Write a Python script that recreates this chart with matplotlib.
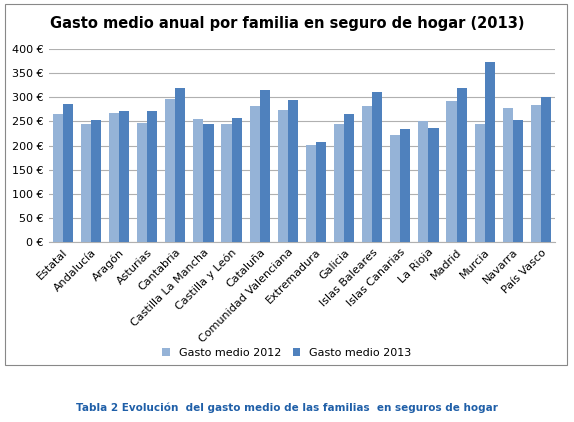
import numpy as np
import matplotlib.pyplot as plt
import matplotlib.patches as mpatches

regions = ["Estatal", "Andalucía", "Aragón", "Asturias", "Cantabria",
           "Castilla La Mancha", "Castilla y León", "Cataluña",
           "Comunidad Valenciana", "Extremadura", "Galicia", "Islas Baleares",
           "Islas Canarias", "La Rioja", "Madrid", "Murcia", "Navarra", "País Vasco"]
gasto_2012 = [265, 245, 267, 246, 297, 255, 244, 281, 273, 202, 245, 282, 222, 250, 293, 245, 277, 284]
gasto_2013 = [286, 253, 272, 272, 320, 244, 258, 316, 295, 207, 266, 311, 234, 236, 319, 374, 252, 300]
yticks = [0, 50, 100, 150, 200, 250, 300, 350, 400]

fig = plt.figure(figsize=(5.74, 4.22), dpi=100)
fig.patches.append(mpatches.Rectangle((0.009, 0.135), 0.978, 0.855, transform=fig.transFigure,
                                      fill=False, edgecolor="#888888", linewidth=0.8))
ax = fig.add_axes([0.085, 0.426, 0.882, 0.458])

x = np.arange(len(regions))
w = 0.36
ax.bar(x - w / 2, gasto_2012, w, color="#95b3d7", label="Gasto medio 2012", zorder=3)
ax.bar(x + w / 2, gasto_2013, w, color="#4f81bd", label="Gasto medio 2013", zorder=3)

ax.set_xlim(-0.5, len(regions) - 0.5)
ax.set_ylim(0, 400)
ax.set_yticks(yticks)
ax.set_yticklabels([f"{v} €" for v in yticks], fontsize=8)
ax.set_xticks(x)
ax.set_xticklabels(regions, rotation=45, ha="right", rotation_mode="anchor", fontsize=8)
ax.tick_params(length=0)
ax.grid(axis="y", color="#b0b0b0", linewidth=0.8, zorder=0)
for s in ["top", "right", "left"]:
    ax.spines[s].set_visible(False)
ax.spines["bottom"].set_color("#b0b0b0")

fig.text(0.5, 0.945, "Gasto medio anual por familia en seguro de hogar (2013)",
         ha="center", va="center", fontsize=10.5, fontweight="bold")
fig.legend(loc="center", bbox_to_anchor=(0.5, 0.163), ncol=2, frameon=False,
           fontsize=8, handlelength=0.7, handleheight=0.7, columnspacing=1.0)
fig.text(0.5, 0.033, "Tabla 2 Evolución  del gasto medio de las familias  en seguros de hogar",
         ha="center", va="center", fontsize=7.5, fontweight="bold", color="#1f5fa8")

fig.savefig("out.png", dpi=100)
